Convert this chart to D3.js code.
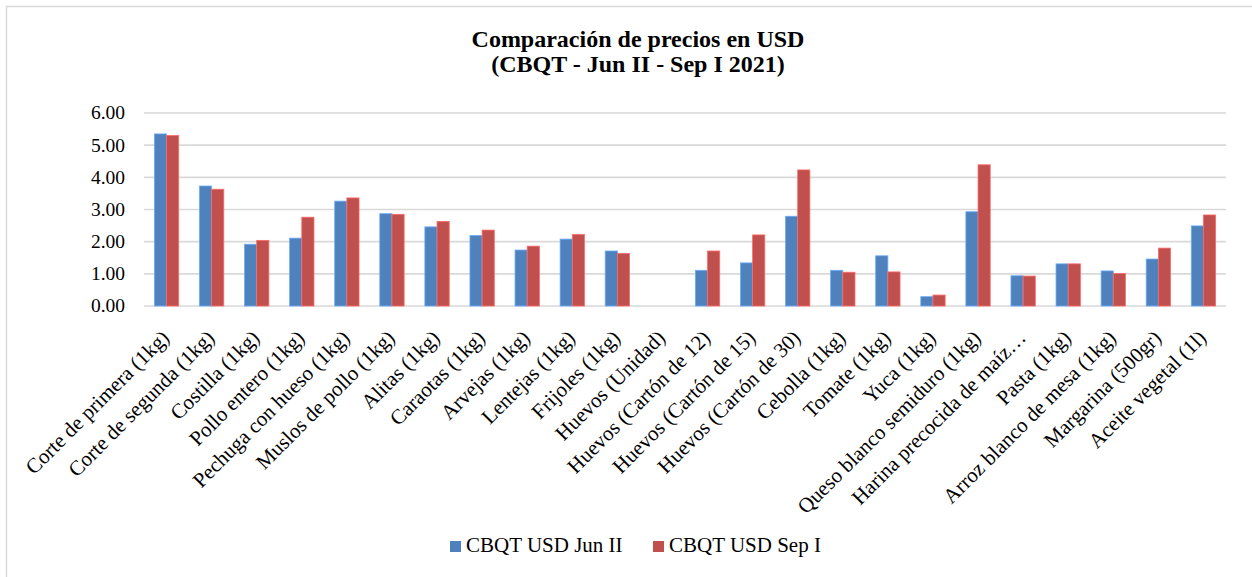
<!DOCTYPE html>
<meta charset="utf-8">
<html>
  <head>
    <style>
      body { margin: 0; background: #fff; }
      text { font-family: "Liberation Serif", "DejaVu Serif", serif; fill: #000; }
      text.title { font-size: 24px; font-weight: bold; }
      text.ytick { font-size: 19.5px; }
      text.xlabel { font-size: 21px; }
      text.legend { font-size: 21px; }
      line.grid { stroke: #D9D9D9; stroke-width: 1.6px; }
    </style>
    <script src="https://d3js.org/d3.v7.min.js"></script>
  </head>
  <body>
    <div id="chart"></div>
    <script type="text/javascript">
      var categories = ["Corte de primera (1kg)", "Corte de segunda (1kg)", "Costilla (1kg)",
                        "Pollo entero (1kg)", "Pechuga con hueso (1kg)", "Muslos de pollo (1kg)",
                        "Alitas (1kg)", "Caraotas (1kg)", "Arvejas (1kg)", "Lentejas (1kg)",
                        "Frijoles (1kg)", "Huevos (Unidad)", "Huevos (Cartón de 12)",
                        "Huevos (Cartón de 15)", "Huevos (Cartón de 30)", "Cebolla (1kg)",
                        "Tomate (1kg)", "Yuca (1kg)", "Queso blanco semiduro (1kg)",
                        "Harina precocida de maíz…", "Pasta (1kg)", "Arroz blanco de mesa (1kg)",
                        "Margarina (500gr)", "Aceite vegetal (1l)"];
      var seriesNames = ["CBQT USD Jun II", "CBQT USD Sep I"];
      var junII = [5.35, 3.73, 1.92, 2.11, 3.26, 2.87, 2.46, 2.19, 1.74, 2.08, 1.71, 0,
                   1.11, 1.34, 2.79, 1.11, 1.56, 0.29, 2.93, 0.94, 1.31, 1.09, 1.46, 2.49];
      var sepI  = [5.30, 3.63, 2.04, 2.76, 3.36, 2.85, 2.63, 2.36, 1.86, 2.22, 1.63, 0,
                   1.71, 2.21, 4.23, 1.05, 1.06, 0.34, 4.39, 0.93, 1.31, 1.01, 1.80, 2.83];
      var yTicks = [0, 1, 2, 3, 4, 5, 6];
      var colors = ["#4F81BD", "#C0504D"];

      var width = 1252, height = 577,
          plotLeft = 144, plotRight = 1226, plotTop = 113, plotBottom = 306;

      var svg = d3.select("#chart").append("svg")
          .attr("width", width)
          .attr("height", height);

      // chart frame
      svg.append("rect")
          .attr("x", 6.5).attr("y", 6.5)
          .attr("width", 1300).attr("height", 650)
          .style("fill", "#fff")
          .style("stroke", "#D9D9D9")
          .style("stroke-width", 1.5);

      svg.append("text").attr("class", "title")
          .attr("x", 638).attr("y", 47)
          .style("text-anchor", "middle")
          .text("Comparación de precios en USD");
      svg.append("text").attr("class", "title")
          .attr("x", 638).attr("y", 72)
          .style("text-anchor", "middle")
          .text("(CBQT - Jun II - Sep I 2021)");

      var y = d3.scaleLinear().domain([0, 6]).range([plotBottom, plotTop]);
      var x = d3.scaleBand().domain(categories)
          .range([plotLeft, plotRight])
          .paddingInner(0.46).paddingOuter(0.23);
      var xs = d3.scaleBand().domain([0, 1]).range([0, x.bandwidth()]);

      svg.selectAll(".grid")
          .data(yTicks)
          .enter().append("line")
            .attr("class", "grid")
            .attr("x1", plotLeft).attr("x2", plotRight)
            .attr("y1", function(d) { return y(d); })
            .attr("y2", function(d) { return y(d); });

      svg.selectAll(".ytick")
          .data(yTicks)
          .enter().append("text")
            .attr("class", "ytick")
            .attr("x", 125)
            .attr("y", function(d) { return y(d); })
            .attr("dy", "0.33em")
            .style("text-anchor", "end")
            .text(function(d) { return d3.format(".2f")(d); });

      var series = [junII, sepI];
      series.forEach(function(vals, s) {
        svg.selectAll(".bar" + s)
            .data(vals)
            .enter().append("rect")
              .attr("class", "bar" + s)
              .attr("x", function(d, i) { return x(categories[i]) + xs(s); })
              .attr("y", function(d) { return y(d); })
              .attr("width", xs.bandwidth())
              .attr("height", function(d) { return y(0) - y(d); })
              .style("fill", colors[s])
              .style("stroke", d3.color(colors[s]).brighter(0.8))
              .style("stroke-width", 0.8)
              .style("display", function(d) { return d > 0 ? null : "none"; });
      });

      svg.selectAll(".xlabel")
          .data(categories)
          .enter().append("text")
            .attr("class", "xlabel")
            .attr("transform", function(d) {
              return "translate(" + (x(d) + x.bandwidth() / 2 + 4) + ",339) rotate(-45)";
            })
            .style("text-anchor", "end")
            .text(function(d) { return d; });

      var legendX = [450, 653];
      seriesNames.forEach(function(name, s) {
        svg.append("rect")
            .attr("x", legendX[s]).attr("y", 541)
            .attr("width", 11).attr("height", 11)
            .style("fill", colors[s]);
        svg.append("text").attr("class", "legend")
            .attr("x", legendX[s] + 16).attr("y", 552)
            .text(name);
      });
    </script>
  </body>
</html>
